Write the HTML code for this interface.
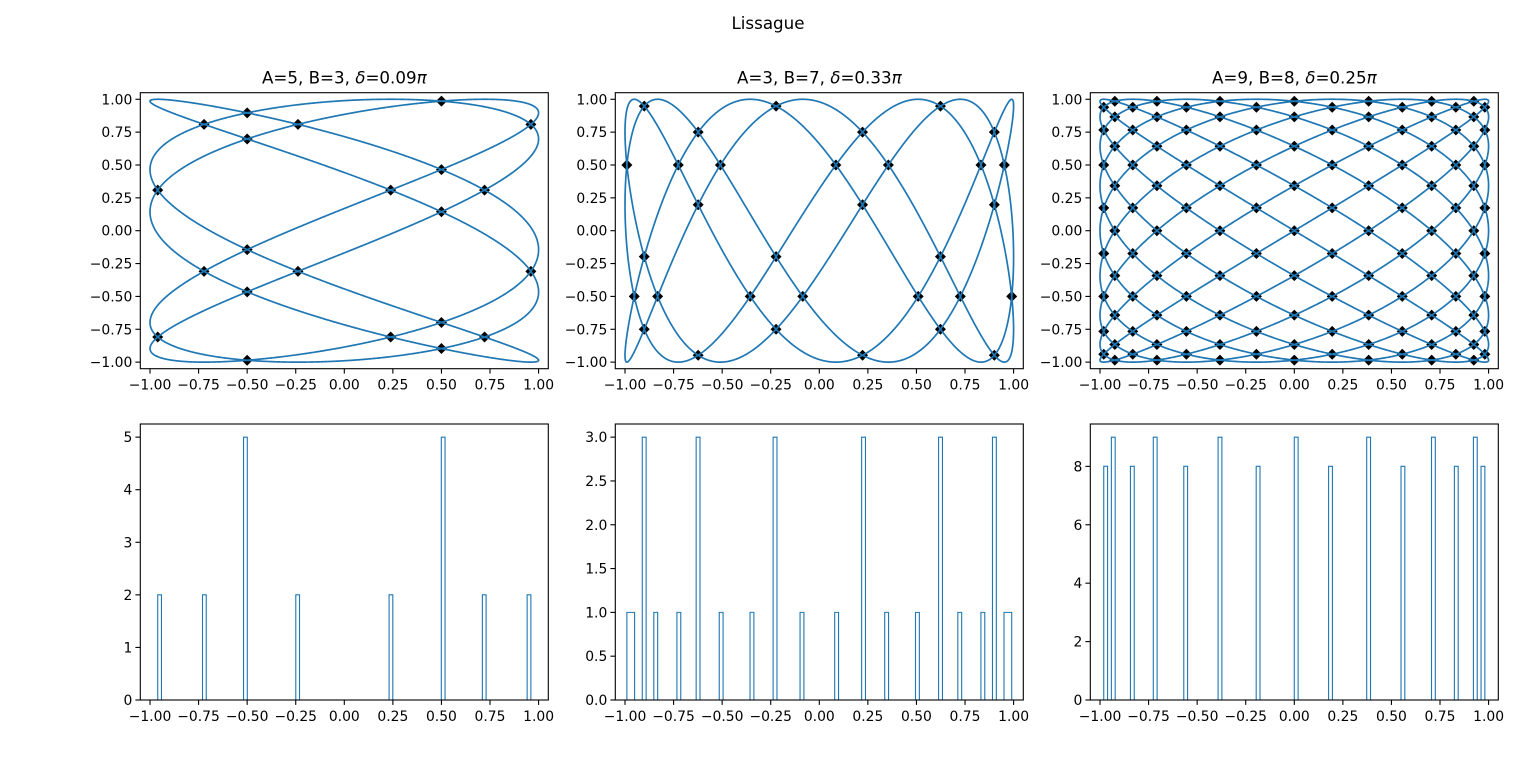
<!DOCTYPE html>
<html><head><meta charset="utf-8"><style>
body{margin:0;background:#fff}
svg{display:block;font-family:"DejaVu Sans","Liberation Sans",sans-serif}
</style></head><body>
<svg id="fig" width="1536" height="761" viewBox="0 0 1536 761" xmlns="http://www.w3.org/2000/svg">
<rect width="1536" height="761" fill="#fff"/>
<text x="768" y="29" text-anchor="middle" font-size="16.7">Lissague</text>
</svg>
<script>
const freqA = [5, 3, 9];
const freqB = [3, 7, 8];
const deltaPi = [0.09, 0.33, 0.25];
const xTickLabels = ["−1.00","−0.75","−0.50","−0.25","0.00","0.25","0.50","0.75","1.00"];
const xTickValues = [-1,-0.75,-0.5,-0.25,0,0.25,0.5,0.75,1];

const NS="http://www.w3.org/2000/svg";
const svg=document.getElementById('fig');
const lefts=[140.3,615.3,1090.3];
const W=408,H=276,tops=[92.7,424];
function mk(tag,attrs,parent){const e=document.createElementNS(NS,tag);for(const k in attrs)e.setAttribute(k,attrs[k]);(parent||svg).appendChild(e);return e;}

function niceTicks(max){
  const cands=[];for(let k=-3;k<4;k++)for(const m of [1,2,2.5,5])cands.push(m*Math.pow(10,k));
  cands.sort((a,b)=>a-b);
  for(const s of cands){if(max/s<=9)return s;}return 1;
}
function intersections(A,B,d){
  const N=6000,P=[];
  for(let i=0;i<=N;i++){const t=2*Math.PI*i/N;P.push([Math.sin(A*t+d),Math.sin(B*t)]);}
  const cs=0.02,grid=new Map();
  for(let i=0;i<N;i++){
    const a=P[i],b=P[i+1];
    const x0=Math.floor(Math.min(a[0],b[0])/cs),x1=Math.floor(Math.max(a[0],b[0])/cs);
    const y0=Math.floor(Math.min(a[1],b[1])/cs),y1=Math.floor(Math.max(a[1],b[1])/cs);
    for(let gx=x0;gx<=x1;gx++)for(let gy=y0;gy<=y1;gy++){const k=gx+','+gy;if(!grid.has(k))grid.set(k,[]);grid.get(k).push(i);}
  }
  const seen=new Set(),pts=[];
  for(const arr of grid.values()){
    for(let u=0;u<arr.length;u++)for(let v=u+1;v<arr.length;v++){
      let i=arr[u],j=arr[v];if(i>j){const t=i;i=j;j=t;}
      if(j-i<=1||(i===0&&j===N-1))continue;
      const key=i*N+j;if(seen.has(key))continue;seen.add(key);
      const p=P[i],r=[P[i+1][0]-p[0],P[i+1][1]-p[1]],q=P[j],s=[P[j+1][0]-q[0],P[j+1][1]-q[1]];
      const den=r[0]*s[1]-r[1]*s[0];if(Math.abs(den)<1e-14)continue;
      const qp=[q[0]-p[0],q[1]-p[1]];
      const t=(qp[0]*s[1]-qp[1]*s[0])/den,w=(qp[0]*r[1]-qp[1]*r[0])/den;
      if(t>=0&&t<1&&w>=0&&w<1){
        const x=p[0]+t*r[0],y=p[1]+t*r[1];
        if(!pts.some(o=>Math.hypot(o[0]-x,o[1]-y)<2e-3))pts.push([x,y]);
      }
    }
  }
  return {curve:P,pts};
}
function axesFrame(g,L,T){
  mk('rect',{x:L,y:T,width:W,height:H,fill:'none',stroke:'#000','stroke-width':1.1},g);
}
function xAxis(g,L,T,sx){
  xTickValues.forEach((v,i)=>{
    const x=sx(v);
    const tk=mk('line',{x1:x,x2:x,y1:T+H,y2:T+H+4.9,stroke:'#000','stroke-width':1.1},g);
    
    
    const tx=mk('text',{x:x,y:T+H+21,'text-anchor':'middle','font-size':13.9},g);
    
    
    tx.textContent=xTickLabels[i];
  });
}
function yAxis(g,L,sy,vals,labels){
  vals.forEach((v,i)=>{
    const y=sy(v);
    const tk=mk('line',{x1:L-4.9,x2:L,y1:y,y2:y,stroke:'#000','stroke-width':1.1},g);
    
    
    const tx=mk('text',{x:L-8,y:y+5,'text-anchor':'end','font-size':13.9},g);
    
    
    tx.textContent=labels[i];
  });
}
for(let c=0;c<3;c++){
  const A=freqA[c],B=freqB[c],d=deltaPi[c]*Math.PI;
  const {curve,pts}=intersections(A,B,d);
  const L=lefts[c];
  let T=tops[0];
  const g=mk('g',{});
  
  
  const sx=v=>L+(v+1.05)/2.1*W, sy=v=>T+H-(v+1.05)/2.1*H;
  const ttl=mk('text',{x:L+W/2,y:T-9,'text-anchor':'middle','font-size':16.7},g);
  
  
  ttl.innerHTML='A='+A+', B='+B+', <tspan font-style="italic">δ</tspan>='+deltaPi[c].toFixed(2)+'<tspan font-style="italic">π</tspan>';
  pts.forEach(p=>{
    const x=sx(p[0]),y=sy(p[1]),r=5.5;
    const m=mk('polygon',{points:`${x},${y-r} ${x+r},${y} ${x},${y+r} ${x-r},${y}`,fill:'#000'},g);
    
    
  });
  let dstr='';curve.forEach((p,i)=>{dstr+=(i?'L':'M')+sx(p[0]).toFixed(2)+','+sy(p[1]).toFixed(2);});
  const ln=mk('path',{d:dstr,fill:'none',stroke:'#1f77b4','stroke-width':1.7},g);
  
  
  axesFrame(g,L,T);xAxis(g,L,T,sx);
  yAxis(g,L,sy,xTickValues,xTickLabels);
  T=tops[1];
  const g2=mk('g',{});
  
  
  const xs=pts.map(p=>Math.round(p[0]*1e5)/1e5);
  const mn=Math.min(...xs),mx=Math.max(...xs),nb=100,bw=(mx-mn)/nb;
  const counts=new Array(nb).fill(0);
  xs.forEach(x=>{let k=Math.floor((x-mn)/bw+1e-4);if(k>=nb)k=nb-1;if(k<0)k=0;counts[k]++;});
  const cmax=Math.max(...counts),ymax=cmax*1.05;
  const hx=v=>L+(v+1.05)/2.1*W, hy=v=>T+H-v/ymax*H;
  let hd='M'+hx(mn)+','+hy(0);
  counts.forEach((n,k)=>{hd+='L'+hx(mn+k*bw)+','+hy(n)+'L'+hx(mn+(k+1)*bw)+','+hy(n);});
  hd+='L'+hx(mx)+','+hy(0);
  const hp=mk('path',{d:hd,fill:'none',stroke:'#1f77b4','stroke-width':1.1},g2);
  
  
  axesFrame(g2,L,T);xAxis(g2,L,T,hx);
  const st=niceTicks(ymax);const dec=st<1?(st===0.25?2:1):0;
  const yv=[],yl=[];for(let v=0;v<=ymax+1e-9;v+=st){yv.push(v);yl.push(v.toFixed(dec));}
  yAxis(g2,L,hy,yv,yl);
}
</script>
</body></html>
